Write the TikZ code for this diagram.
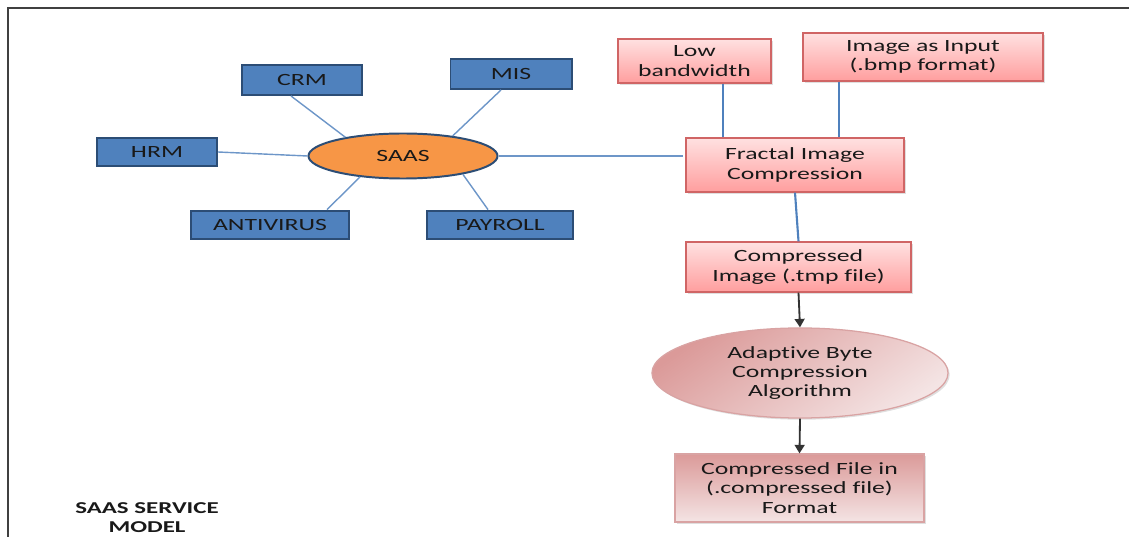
\documentclass[tikz,border=0pt]{standalone}
\usepackage{fontspec}
\setmainfont{Carlito}[FakeStretch=1.5, Ligatures=NoCommon]
\usetikzlibrary{shapes.geometric,arrows.meta,shadows}

\definecolor{modblue}{HTML}{4F81BD}
\definecolor{modedge}{HTML}{2C4D75}
\definecolor{saasfill}{HTML}{F79646}
\definecolor{linkblue}{HTML}{6D96C8}
\definecolor{pinktop}{HTML}{FFE1E1}
\definecolor{pinkbot}{HTML}{FF9E9E}
\definecolor{pinkedge}{HTML}{D06565}
\definecolor{rosedark}{HTML}{DB9A99}
\definecolor{roselight}{HTML}{F4E4E4}
\definecolor{roseedge}{HTML}{D9A3A3}

\begin{document}
\begin{tikzpicture}[x=0.025cm, y=-0.025cm,
    every node/.style={font=\fontsize{12.2}{13.8}\selectfont, text=black!90, align=center, inner sep=0pt},
    module/.style={draw=modedge, line width=1.4pt, fill=modblue, rectangle, minimum height=0.72cm},
    stepbox/.style={draw=pinkedge, line width=0.9pt, rectangle, top color=pinktop, bottom color=pinkbot,
        drop shadow={shadow xshift=1.2pt, shadow yshift=-1.2pt, opacity=0.25}},
    rosebox/.style={draw=roseedge, line width=0.9pt, top color=rosedark, bottom color=roselight,
        drop shadow={shadow xshift=1.2pt, shadow yshift=-1.2pt, opacity=0.25}},
    link/.style={draw=linkblue, line width=1pt},
    feed/.style={draw=modblue, line width=1.5pt},
    flow/.style={draw=black!80, line width=1.3pt, -{Triangle[width=7pt,length=6pt]}}]

    \useasboundingbox (0,0) rectangle (1129,537);
    \draw[line width=1.2pt, black!75] (8,537) -- (8,8) -- (1129,8);

    % SAAS hub
    \node[ellipse, draw=modedge, line width=1.4pt, fill=saasfill, minimum width=4.725cm, minimum height=1.125cm] (saas) at (403,156) {SAAS};

    % modules round the hub
    \node[module, minimum width=3.0cm, minimum height=0.75cm] (crm) at (302,80) {CRM};
    \node[module, minimum width=3.025cm, minimum height=0.75cm] (mis) at (511,74) {MIS};
    \node[module, minimum width=3.0cm] (hrm) at (157,152) {HRM};
    \node[module, minimum width=3.925cm] (antivirus) at (270,225) {ANTIVIRUS};
    \node[module, minimum width=3.65cm] (payroll) at (500,225) {PAYROLL};

    \draw[link] ([xshift=-0.275cm]crm.south) -- (saas.162);
    \draw[link] ([xshift=-0.25cm]mis.south) -- (saas.22);
    \draw[link] (hrm.east) -- (saas.west);
    \draw[link] ([xshift=1.425cm]antivirus.north) -- (saas.206);
    \draw[link] ([xshift=-0.3cm]payroll.north) -- (saas.343);

    % compression chain
    \node[stepbox, minimum width=3.825cm, minimum height=1.1cm] (lowbw) at (694.5,61) {Low\\bandwidth};
    \node[stepbox, minimum width=6.0cm, minimum height=1.2cm] (imginput) at (923,57) {Image as Input\\(.bmp format)};
    \node[stepbox, minimum width=5.45cm, minimum height=1.35cm] (fractal) at (795,165) {Fractal Image\\Compression};
    \node[stepbox, minimum width=5.625cm, minimum height=1.25cm] (compimg) at (798.5,267) {Compressed\\Image (.tmp file)};
    \node[rosebox, ellipse, shading angle=35, minimum width=7.4cm, minimum height=2.25cm] (abc) at (800,373) {Adaptive Byte\\Compression\\Algorithm};
    \node[rosebox, rectangle, minimum width=6.225cm, minimum height=1.7cm] (compfile) at (799.5,488) {Compressed File in\\(.compressed file)\\Format};

    \coordinate (lowfoot) at ([xshift=0.71cm]lowbw.south);
    \coordinate (imgfoot) at ([xshift=-2.1cm]imginput.south);
    \draw[link] (saas.east) -- ([xshift=-2pt]saas.east -| fractal.west);
    \draw[feed] (lowfoot) -- (lowfoot |- fractal.north);
    \draw[feed] (imgfoot) -- (imgfoot |- fractal.north);
    \draw[feed] (fractal.south) -- (compimg.north);
    \draw[flow] (compimg.south) -- (abc.north);
    \draw[flow] (abc.south) -- (compfile.north);

    % caption
    \node[font=\bfseries\fontsize{11.8}{13.5}\selectfont] (caption) at (147,518) {SAAS SERVICE\\MODEL};
\end{tikzpicture}
\end{document}
